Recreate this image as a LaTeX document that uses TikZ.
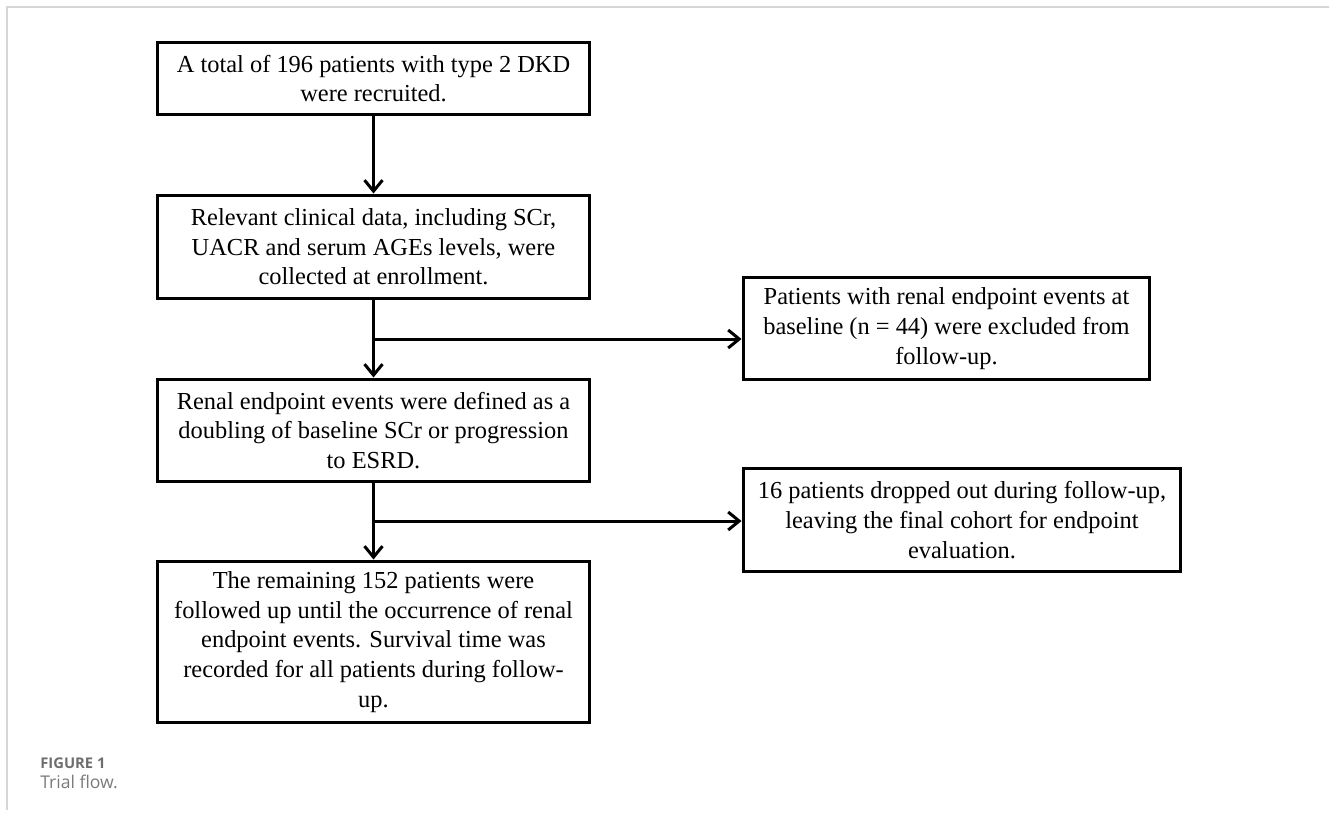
\documentclass[tikz,border=0pt]{standalone}
\usepackage{fontspec}
\setmainfont{Liberation Serif}
\newfontfamily\capfont{Open Sans}
\usetikzlibrary{arrows.meta}

\definecolor{framegray}{HTML}{D6D6D6}
\definecolor{capgray}{HTML}{6E6E6E}
\definecolor{capgraylight}{HTML}{7A7A7A}

\tikzset{
  flowbox/.style={draw=black, line width=0.06cm, align=center, inner sep=0pt,
    font=\fontsize{13.9pt}{16.9pt}\selectfont},
  flowarrow/.style={line width=0.06cm, -{Straight Barb[length=0.22cm,width=0.36cm]}},
}

\begin{document}
\begin{tikzpicture}[x=0.02cm, y=-0.02cm]
  \useasboundingbox (0,0) rectangle (1329,812);
  % frame of the figure panel
  \draw[framegray, line width=0.04cm] (7,810) -- (7,7) -- (1329,7);

  \node[flowbox, minimum width=8.66cm, minimum height=1.46cm] (recruit) at (373.5,78.5)
    {A total of 196 patients with type 2 DKD\\were recruited.};
  \node[flowbox, minimum width=8.66cm, minimum height=2.08cm] (baseline) at (373.5,247)
    {Relevant clinical data, including SCr,\\UACR and serum AGEs levels, were\\collected at enrollment.};
  \node[flowbox, minimum width=8.66cm, minimum height=2.06cm] (endpoint) at (373.5,430.5)
    {Renal endpoint events were defined as a\\doubling of baseline SCr or progression\\to ESRD.};
  \node[flowbox, minimum width=8.66cm, minimum height=3.24cm] (followup) at (373.5,642)
    {The remaining 152 patients were\\followed up until the occurrence of renal\\endpoint events. Survival time was\\recorded for all patients during follow-\\up.};
  \node[flowbox, minimum width=8.14cm, minimum height=2.06cm] (excluded) at (946.5,328.5)
    {Patients with renal endpoint events at\\baseline (n = 44) were excluded from\\follow-up.};
  \node[flowbox, minimum width=8.76cm, minimum height=2.08cm] (dropout) at (962,520)
    {16 patients dropped out during follow-up,\\leaving the final cohort for endpoint\\evaluation.};

  \coordinate (split1) at (373.5,339);
  \coordinate (split2) at (373.5,521);

  \draw[flowarrow] (recruit) -- (baseline);
  \draw[flowarrow] (baseline) -- (endpoint);
  \draw[flowarrow] (split1) -- (split1 -| excluded.west);
  \draw[flowarrow] (endpoint) -- (followup);
  \draw[flowarrow] (split2) -- (split2 -| dropout.west);

  % caption
  \node[anchor=base west, inner sep=0pt, text=capgray, font=\capfont\bfseries\fontsize{8.4pt}{10pt}\selectfont] (figlabel) at (40,768) {FIGURE 1};
  \node[anchor=base west, inner sep=0pt, text=capgraylight, font=\capfont\fontsize{10pt}{12pt}\selectfont] (figtitle) at (40,788) {Trial flow.};
\end{tikzpicture}
\end{document}
